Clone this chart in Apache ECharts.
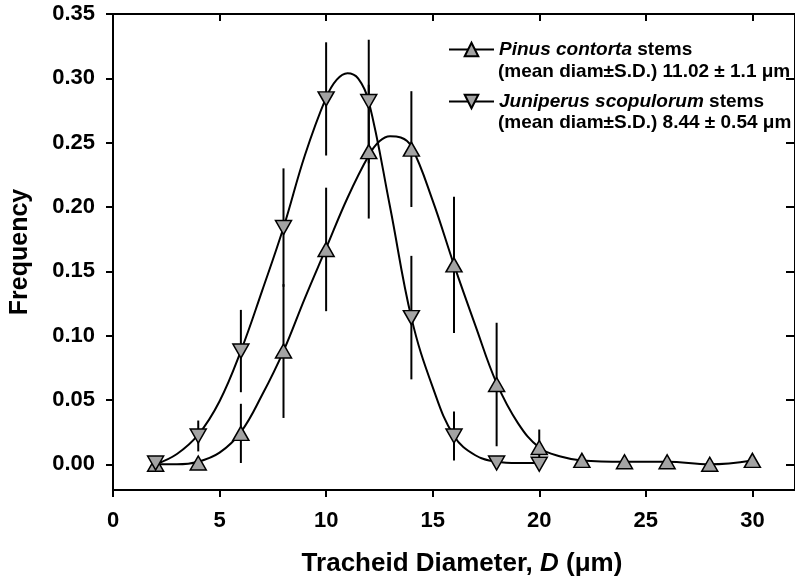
<!DOCTYPE html>
<html>
<head>
<meta charset="utf-8">
<title>Tracheid diameter frequency</title>
<style>
	* { margin: 0; padding: 0; }
	#chart { width: 795px; height: 584px; }
</style>
</head>
<body>
<div id="chart"></div>
<script src="https://cdn.jsdelivr.net/npm/echarts@6.0.0/dist/echarts.min.js"></script>
<script>
// measured points (diameter class, frequency, S.D.)
var pinusD = [2, 4, 6, 8, 10, 12, 14, 16, 18, 20, 22, 24, 26, 28, 30];
var pinusFreq = [0.000, 0.001, 0.024, 0.088, 0.167, 0.243, 0.245, 0.155, 0.062, 0.013, 0.003, 0.002, 0.002, 0.000, 0.003];
var pinusSD = [0, 0, 0.023, 0.052, 0.048, 0.052, 0.045, 0.053, 0.048, 0.014, 0, 0, 0, 0, 0];

var juniperD = [2, 4, 6, 8, 10, 12, 14, 16, 18, 20];
var juniperFreq = [0.001, 0.022, 0.088, 0.184, 0.284, 0.282, 0.114, 0.022, 0.001, 0.000];
var juniperSD = [0, 0.012, 0.032, 0.046, 0.044, 0.048, 0.048, 0.019, 0, 0];

// fitted curves
var pinusFitX = [2, 3, 4, 5, 6, 7, 8, 9, 10, 11, 12, 12.5, 13, 13.5, 14, 15, 16, 17, 18, 19, 20, 21, 22, 24, 26, 28, 30];
var pinusFitY = [0.000, 0.000, 0.002, 0.009, 0.025, 0.054, 0.088, 0.129, 0.168, 0.207, 0.240, 0.251, 0.255, 0.254, 0.247, 0.205, 0.155, 0.108, 0.063, 0.032, 0.013, 0.006, 0.003, 0.002, 0.002, 0.000, 0.003];
var juniperFitX = [2, 3, 4, 5, 6, 7, 8, 9, 10, 10.5, 11, 11.5, 12, 13, 14, 15, 16, 17, 18, 19, 20];
var juniperFitY = [0.000, 0.008, 0.023, 0.049, 0.088, 0.135, 0.184, 0.240, 0.285, 0.299, 0.304, 0.300, 0.282, 0.200, 0.114, 0.060, 0.022, 0.007, 0.002, 0.001, 0.001];

var xTicks = [0, 5, 10, 15, 20, 25, 30];
var yTicks = [0, 0.05, 0.10, 0.15, 0.20, 0.25, 0.30, 0.35];

var pinusName = 'Pinus contorta stems';
var juniperName = 'Juniperus scopulorum stems';
var pinusNote = '(mean diam±S.D.) 11.02 ± 1.1 μm';
var juniperNote = '(mean diam±S.D.) 8.44 ± 0.54 μm';

var FONT = '"Liberation Sans", Arial, sans-serif';
var GRAY = '#a3a3a3';

function zip(xs, ys) {
	return xs.map(function (x, i) { return [x, ys[i]]; });
}
function zip3(xs, ys, es) {
	return xs.map(function (x, i) { return [x, ys[i], es[i]]; });
}

function errorBar(params, api) {
	var e = api.value(2);
	if (!e) return null;
	var x = api.value(0), y = api.value(1);
	var p1 = api.coord([x, y - e]);
	var p2 = api.coord([x, y + e]);
	return {
		type: 'line',
		shape: { x1: p1[0], y1: p1[1], x2: p2[0], y2: p2[1] },
		style: { stroke: '#000', lineWidth: 2 }
	};
}

function legendBox(name, top) {
	return {
		data: [name],
		left: 443,
		top: top,
		itemWidth: 45,
		itemHeight: 17,
		selectedMode: false,
		formatter: function (n) {
			var parts = n.split(' ');
			var last = parts.pop();
			return '{i|' + parts.join(' ') + '} ' + last;
		},
		textStyle: {
			color: '#000',
			fontFamily: FONT,
			fontWeight: 'bold',
			fontSize: 19,
			rich: {
				i: { fontFamily: FONT, fontWeight: 'bold', fontStyle: 'italic', fontSize: 19, color: '#000' }
			}
		}
	};
}

var axisLineStyle = { color: '#000', width: 2 };
var labelStyle = { color: '#000', fontFamily: FONT, fontWeight: 'bold', fontSize: 22 };

var chart = echarts.init(document.getElementById('chart'));
var option = {
	animation: false,
	backgroundColor: '#fff',
	grid: { left: 113, top: 14, width: 683, height: 476 },
	legend: [legendBox(pinusName, 35), legendBox(juniperName, 87)],
	graphic: [
		{ type: 'text', left: 498, top: 62, style: { text: pinusNote, font: 'bold 19px ' + FONT, fill: '#000' } },
		{ type: 'text', left: 498, top: 113, style: { text: juniperNote, font: 'bold 19px ' + FONT, fill: '#000' } }
	],
	xAxis: [{
		type: 'value',
		min: 0,
		max: 32,
		position: 'bottom',
		name: 'Tracheid Diameter, {i|D} (μm)',
		nameLocation: 'middle',
		nameGap: 61,
		nameTextStyle: {
			color: '#000', fontFamily: FONT, fontWeight: 'bold', fontSize: 26, padding: [0, 0, 0, 16],
			rich: { i: { fontFamily: FONT, fontWeight: 'bold', fontStyle: 'italic', fontSize: 26, color: '#000' } }
		},
		axisLine: { onZero: false, lineStyle: axisLineStyle },
		axisTick: { customValues: xTicks, length: 7, lineStyle: axisLineStyle },
		axisLabel: Object.assign({ customValues: xTicks, margin: 20 }, labelStyle),
		splitLine: { show: false }
	}, {
		type: 'value',
		min: 0,
		max: 32,
		position: 'top',
		axisLine: { onZero: false, lineStyle: axisLineStyle },
		axisTick: { customValues: xTicks, inside: true, length: 7, lineStyle: axisLineStyle },
		axisLabel: { show: false },
		splitLine: { show: false }
	}],
	yAxis: [{
		type: 'value',
		min: -0.02,
		max: 0.35,
		position: 'left',
		name: 'Frequency',
		nameLocation: 'middle',
		nameGap: 80,
		nameTextStyle: { color: '#000', fontFamily: FONT, fontWeight: 'bold', fontSize: 25 },
		axisLine: { onZero: false, lineStyle: axisLineStyle },
		axisTick: { customValues: yTicks, length: 7, lineStyle: axisLineStyle },
		axisLabel: Object.assign({
			customValues: yTicks,
			margin: 18,
			formatter: function (v) { return v.toFixed(2); }
		}, labelStyle),
		splitLine: { show: false }
	}, {
		type: 'value',
		min: -0.02,
		max: 0.35,
		position: 'right',
		axisLine: { onZero: false, lineStyle: axisLineStyle },
		axisTick: { customValues: yTicks, inside: true, length: 9, lineStyle: axisLineStyle },
		axisLabel: { show: false },
		splitLine: { show: false }
	}],
	series: [
		{
			type: 'custom',
			name: 'pinus sd',
			renderItem: errorBar,
			data: zip3(pinusD, pinusFreq, pinusSD),
			encode: { x: 0, y: 1 },
			z: 1
		},
		{
			type: 'custom',
			name: 'juniper sd',
			renderItem: errorBar,
			data: zip3(juniperD, juniperFreq, juniperSD),
			encode: { x: 0, y: 1 },
			z: 1
		},
		{
			type: 'line',
			name: pinusName,
			data: zip(pinusFitX, pinusFitY),
			smooth: 0.4,
			showSymbol: false,
			symbol: 'triangle',
			itemStyle: { color: GRAY, borderColor: '#000', borderWidth: 1.5 },
			lineStyle: { color: '#000', width: 2 },
			z: 2
		},
		{
			type: 'line',
			name: juniperName,
			data: zip(juniperFitX, juniperFitY),
			smooth: 0.4,
			showSymbol: false,
			symbol: 'triangle',
			symbolRotate: 180,
			itemStyle: { color: GRAY, borderColor: '#000', borderWidth: 1.5 },
			lineStyle: { color: '#000', width: 2 },
			z: 2
		},
		{
			type: 'scatter',
			name: 'pinus points',
			data: zip(pinusD, pinusFreq),
			symbol: 'triangle',
			symbolSize: [16, 14],
			itemStyle: { color: GRAY, borderColor: '#000', borderWidth: 1.5, opacity: 1 },
			z: 3
		},
		{
			type: 'scatter',
			name: 'juniper points',
			data: zip(juniperD, juniperFreq),
			symbol: 'triangle',
			symbolRotate: 180,
			symbolSize: [16, 14],
			itemStyle: { color: GRAY, borderColor: '#000', borderWidth: 1.5, opacity: 1 },
			z: 3
		}
	]
};
chart.setOption(option);
</script>
</body>
</html>
